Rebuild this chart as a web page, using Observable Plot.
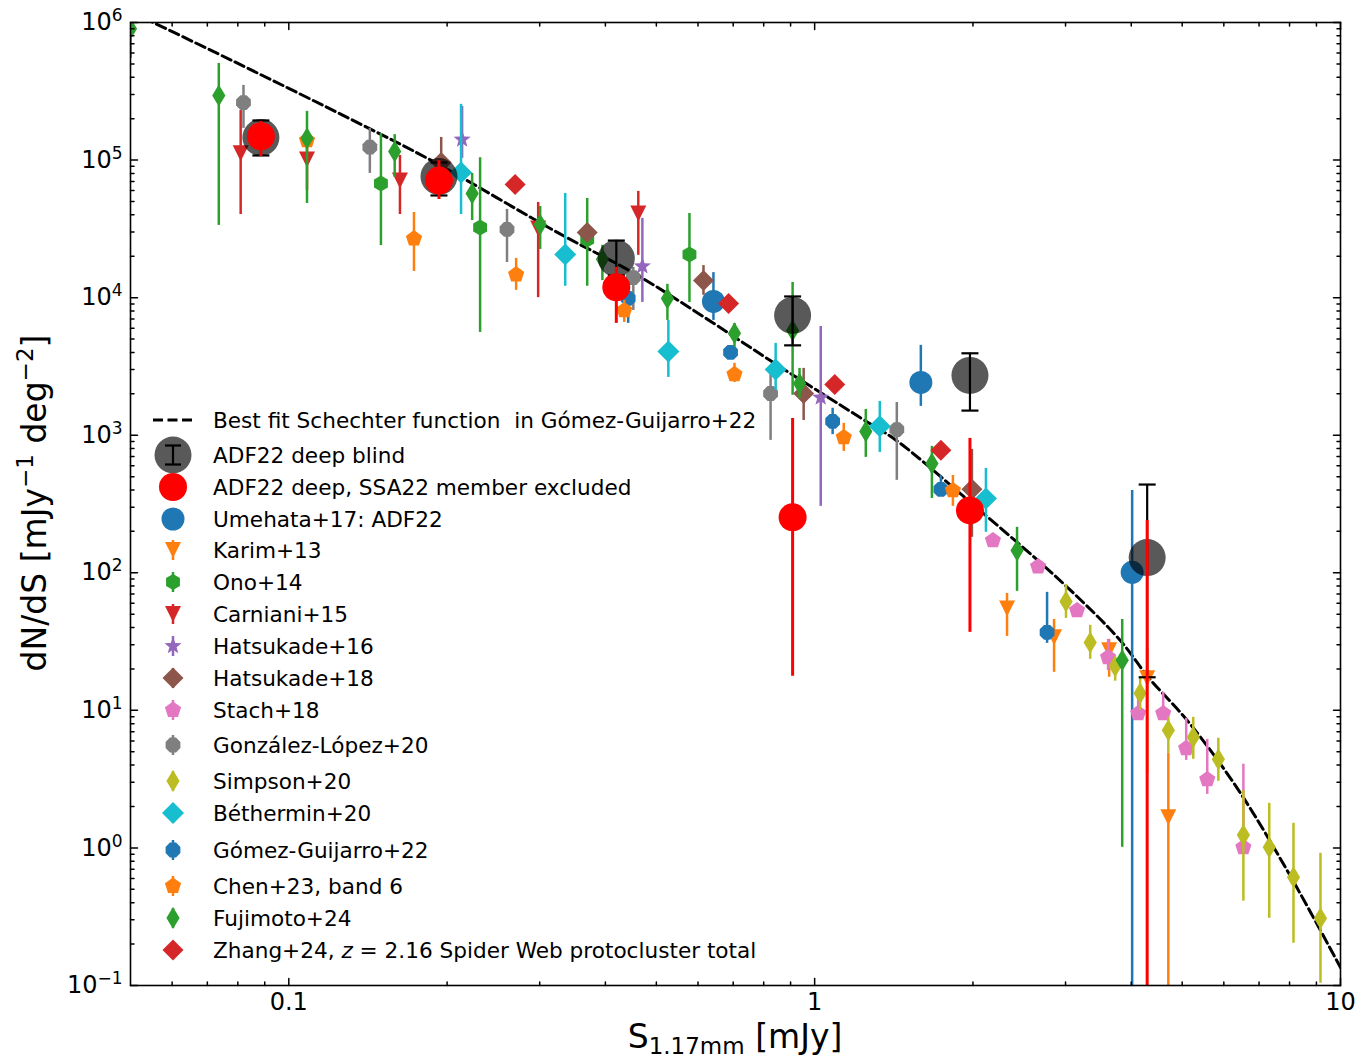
<!DOCTYPE html>
<html><head><meta charset="utf-8">
<script src="https://cdn.jsdelivr.net/npm/d3@7"></script>
<script src="https://cdn.jsdelivr.net/npm/@observablehq/plot@0.6"></script>
<style>body{margin:0;background:#fff;} #chart{width:1371px;height:1061px;}</style>
</head><body><div id="chart"></div>
<script>
// ---------------- DATA: [S (mJy), dN/dS, lower, upper] ----------------
const schechterS = [0.05, 0.0779, 0.136, 0.187, 0.3267, 0.454, 0.639, 0.832, 1.218, 1.43, 2.0, 2.968, 3.81, 4.31, 5.11, 6.365, 8.0, 10];
const schechterN = [1.2e6, 5.3e5, 1.85e5, 9.9e4, 2.93e4, 1.5e4, 6600, 3400, 1350, 916, 314, 83.8, 32.3, 17.4, 8.45, 2.71, 0.64, 0.135];

const adf22Blind = [[0.0885,1.46e5,1.08e5,1.94e5],[0.193,7.6e4,5.53e4,9.6e4],[0.4196,1.93e4,1.45e4,2.6e4],
  [0.908,7430,4500,1.02e4],[1.974,2720,1510,3940],[4.289,129,17.4,438]];
const adf22Excl = [[0.0885,1.49e5,1.06e5,1.91e5],[0.193,7.1e4,5.17e4,9.9e4],[0.4196,1.19e4,6500,1.66e4],
  [0.908,253,17.7,1325],[1.974,284,36.9,948],[4.289,0.001,0.001,240]];
const umehata17 = [[0.642,9380,6830,1.52e4],[1.592,2420,1620,4500],[4.016,100.7,0.001,397]];
const karim13 = [[2.322,55.1,34.5,70.8],[2.853,34.0,18.9,45.8],[3.631,27.3,17.4,32.8],[4.289,17.1,3.48,28.2],[4.705,1.67,0.001,4.87]];
const ono14 = [[0.1497,6.76e4,2.39e4,1.56e5],[0.2311,3.24e4,5590,1.04e5],[0.3694,2.65e4,1.21e4,5.26e4],[0.578,2.06e4,9230,4.09e4]];
const carniani15 = [[0.081,1.12e5,4.02e4,2.29e5],[0.1083,1.01e5,6.0e4,1.4e5],[0.1627,7.1e4,4.02e4,1.08e5],[0.298,3.18e4,1.0e4,4.92e4],[0.462,4.09e4,2.03e4,5.92e4]];
const hatsukade16 = [[0.2136,1.41e5,1.03e5,2.45e5],[0.4703,1.69e4,9230,3.77e4],[1.027,1880,304,6170]];
const hatsukade18 = [[0.1949,9.6e4,7.1e4,1.46e5],[0.3694,2.98e4,2.7e4,3.3e4],[0.6146,1.33e4,1.04e4,1.71e4],[0.953,2010,1280,3060],[1.991,404,181,788]];
const stach18 = [[2.183,172,160,185],[2.66,111,103,120],[3.155,53.3,49,58],[3.614,24.3,19.5,32.8],[4.123,9.5,8.89,13.3],
  [4.601,9.5,8.45,13.5],[5.088,5.3,4.33,8.75],[5.58,3.15,2.45,6.15],[6.536,1.01,0.93,4.06]];
const gonzalezLopez20 = [[0.082,2.62e5,1.7e5,3.49e5],[0.1426,1.24e5,8.0e4,1.7e5],[0.26,3.13e4,1.8e4,4.38e4],[0.452,1.4e4,8070,1.66e4],[0.8245,2010,917,2810],[1.433,1100,470,1730]];
const simpson20 = [[3.006,61.9,46.6,82.4],[3.342,31.2,23.5,41.5],[3.728,20.9,16.3,23.1],[4.159,13.3,10.0,17.1],[4.705,7.16,4.87,8.89],[5.248,6.37,4.41,8.89],
  [5.857,4.41,3.05,6.27],[6.536,1.24,0.41,2.62],[7.32,1.01,0.308,2.11],[8.14,0.611,0.203,1.51],[9.16,0.308,0.104,0.914]];
const bethermin20 = [[0.2126,8.13e4,4.02e4,2.54e5],[0.3355,2.06e4,1.21e4,5.72e4],[0.527,4060,2630,6830],[0.843,3010,2120,4650],[1.33,1160,750,1760],[2.117,347,197,574]];
const gomezGuijarro22 = [[0.442,9870,6500,1.17e4],[0.692,4000,3700,4300],[1.082,1260,1010,1570],[1.738,404,359,510],[2.767,36.9,30.7,72.1]];
const chen23 = [[0.1083,1.39e5,1.2e5,1.6e5],[0.173,2.69e4,1.55e4,4.16e4],[0.2706,1.47e4,1.13e4,1.93e4],[0.4345,8070,6600,9550],[0.704,2770,2420,3330],[1.136,964,763,1220],[1.832,397,304,510]];
const fujimoto24 = [[0.05,9.0e5,5.48e5,2e6],[0.0736,2.95e5,3.35e4,5.04e5],[0.1083,1.44e5,4.84e4,2.26e5],[0.159,1.155e5,7.48e4,1.53e5],[0.2232,5.72e4,3.64e4,8.0e4],
  [0.3006,3.4e4,2.24e4,4.6e4],[0.3948,1.9e4,1.33e4,2.4e4],[0.5248,9870,6830,1.25e4],[0.704,5500,4350,6490],[0.908,5780,1950,1.29e4],[0.936,2380,1850,3060],
  [1.251,1066,690,1540],[1.671,624,347,830],[2.426,145,73.3,214],[3.845,23.1,1.01,45.8]];
const zhang24 = [[0.2694,6.65e4,null,null],[0.686,9080,null,null],[1.092,2340,null,null],[1.738,776,null,null]];

const xMajor = [0.1, 1, 10];
const yMajor = [1e-1, 1e0, 1e1, 1e2, 1e3, 1e4, 1e5, 1e6];

// ---------------- SYMBOLS ----------------
const mk = (pts) => ({draw(ctx, size){ const r = Math.sqrt(size/Math.PI);
  pts.forEach(([x,y],i)=> i ? ctx.lineTo(x*r,y*r) : ctx.moveTo(x*r,y*r)); ctx.closePath(); }});
const regular = (n, a0) => d3.range(n).map(i => [Math.cos(a0 + i*2*Math.PI/n), Math.sin(a0 + i*2*Math.PI/n)]);
const symCircle = d3.symbolCircle;
const symTriDown = mk([[0,1],[-1,-1],[1,-1]]);
const symPent = mk(regular(5, -Math.PI/2));
const symHex = mk(regular(6, -Math.PI/2));
const symOct = mk(regular(8, -Math.PI/2 + Math.PI/8));
const symDiamond = mk([[0,-1],[1,0],[0,1],[-1,0]]);
const symThin = mk([[0,-1],[0.6,0],[0,1],[-0.6,0]]);
const symStar = mk(d3.range(10).map(i => { const a = -Math.PI/2 + i*Math.PI/5, q = i % 2 ? 0.42 : 1; return [q*Math.cos(a), q*Math.sin(a)]; }));
const symCap = {draw(ctx, size){ const r = Math.sqrt(size/Math.PI); ctx.moveTo(-r,0); ctx.lineTo(r,0); }};

const series = [
  {name:"Umehata+17: ADF22", data:umehata17, color:"#1f77b4", symbol:symCircle, r:11.5},
  {name:"Karim+13", data:karim13, color:"#ff7f0e", symbol:symTriDown, r:8},
  {name:"Ono+14", data:ono14, color:"#2ca02c", symbol:symHex, r:8},
  {name:"Carniani+15", data:carniani15, color:"#d62728", symbol:symTriDown, r:8},
  {name:"Hatsukade+16", data:hatsukade16, color:"#9467bd", symbol:symStar, r:9},
  {name:"Hatsukade+18", data:hatsukade18, color:"#8c564b", symbol:symDiamond, r:10.5},
  {name:"Stach+18", data:stach18, color:"#e377c2", symbol:symPent, r:8.5},
  {name:"González-López+20", data:gonzalezLopez20, color:"#7f7f7f", symbol:symOct, r:8},
  {name:"Simpson+20", data:simpson20, color:"#bcbd22", symbol:symThin, r:11},
  {name:"Béthermin+20", data:bethermin20, color:"#17becf", symbol:symDiamond, r:11},
  {name:"Gómez-Guijarro+22", data:gomezGuijarro22, color:"#1f77b4", symbol:symOct, r:8},
  {name:"Chen+23, band 6", data:chen23, color:"#ff7f0e", symbol:symPent, r:8.5},
  {name:"Fujimoto+24", data:fujimoto24, color:"#2ca02c", symbol:symThin, r:11},
  {name:"Zhang+24", data:zhang24, color:"#d62728", symbol:symDiamond, r:10.5}
];
const rowsOf = (a) => a.map(d => ({S:d[0], N:d[1], lo:d[2], hi:d[3]}));

// ---------------- MARKS ----------------
const marks = [];
marks.push(Plot.line(schechterS.map((s,i)=>({S:s, N:schechterN[i]})), {x:"S", y:"N", stroke:"black", strokeWidth:3, strokeDasharray:"10,4.5", curve:"catmull-rom", clip:true}));
for (const s of series) {
  const rows = rowsOf(s.data);
  const withErr = rows.filter(d => d.lo != null);
  if (withErr.length) marks.push(Plot.ruleX(withErr, {x:"S", y1:"lo", y2:"hi", stroke:s.color, strokeWidth:2.5, clip:true}));
  marks.push(Plot.dot(rows, {x:"S", y:"N", symbol:s.symbol, r:s.r, fill:s.color, stroke:"none", clip:true}));
}
const blindRows = rowsOf(adf22Blind);
marks.push(Plot.dot(blindRows, {x:"S", y:"N", r:18.5, fill:"black", fillOpacity:0.65, stroke:"none", clip:true}));
marks.push(Plot.ruleX(blindRows, {x:"S", y1:"lo", y2:"hi", stroke:"black", strokeWidth:2.2, clip:true}));
marks.push(Plot.dot(blindRows, {x:"S", y:"lo", symbol:symCap, r:8.5, fill:"none", stroke:"black", strokeWidth:2.2, clip:true}));
marks.push(Plot.dot(blindRows, {x:"S", y:"hi", symbol:symCap, r:8.5, fill:"none", stroke:"black", strokeWidth:2.2, clip:true}));
const exclRows = rowsOf(adf22Excl);
marks.push(Plot.ruleX(exclRows, {x:"S", y1:"lo", y2:"hi", stroke:"#ff0000", strokeWidth:3, clip:true}));
marks.push(Plot.dot(exclRows, {x:"S", y:"N", r:14, fill:"#ff0000", stroke:"none", clip:true}));

// inward ticks on all four sides
const tickShape = {draw(ctx, l){ ctx.moveTo(0,0); ctx.lineTo(0,-l); }};
const decades = d3.range(-2, 7);
const xMinor = decades.flatMap(k => d3.range(2,10).map(m => m*Math.pow(10,k))).filter(v => v > 0.05 && v < 10);
const yMinor = decades.flatMap(k => d3.range(2,10).map(m => m*Math.pow(10,k))).filter(v => v > 0.1 && v < 1e6);
function xTicks(vals, len){ return [
  Plot.vectorX(vals, {x:d=>d, frameAnchor:"bottom", anchor:"start", rotate:0, length:len, shape:tickShape, stroke:"black", strokeWidth:1.5}),
  Plot.vectorX(vals, {x:d=>d, frameAnchor:"top", anchor:"start", rotate:180, length:len, shape:tickShape, stroke:"black", strokeWidth:1.5})]; }
function yTicks(vals, len){ return [
  Plot.vectorY(vals, {y:d=>d, frameAnchor:"left", anchor:"start", rotate:90, length:len, shape:tickShape, stroke:"black", strokeWidth:1.5}),
  Plot.vectorY(vals, {y:d=>d, frameAnchor:"right", anchor:"start", rotate:-90, length:len, shape:tickShape, stroke:"black", strokeWidth:1.5})]; }
marks.push(...xTicks(xMajor, 7), ...xTicks(xMinor, 3.5), ...yTicks(yMajor, 7), ...yTicks(yMinor, 3.5));
marks.push(Plot.frame({stroke:"black", strokeWidth:1.6}));
marks.push(Plot.axisX({ticks:xMajor, tickSize:0, tickPadding:7, tickFormat:d=>String(d), label:null}));
marks.push(Plot.axisY({ticks:yMajor, tickSize:0, tickPadding:8, tickFormat:d=>"10^"+Math.round(Math.log10(d)), label:null}));

const plot = Plot.plot({
  width:1371, height:1061, marginLeft:130, marginRight:31, marginTop:22, marginBottom:76,
  x:{type:"log", domain:[0.05,10]},
  y:{type:"log", domain:[0.1,1e6]},
  style:{fontFamily:"DejaVu Sans", fontSize:"24px", color:"black", background:"white"},
  marks
});
document.getElementById("chart").appendChild(plot);

// ---------------- TEXT POST-PROCESSING ----------------
const NS = "http://www.w3.org/2000/svg";
plot.querySelectorAll('g[aria-label="y-axis tick label"] text').forEach(t => {
  const [base, exp] = t.textContent.split("^");
  t.textContent = base;
  const ts = document.createElementNS(NS, "tspan");
  ts.setAttribute("dy", "-9"); ts.setAttribute("font-size", "17");
  ts.textContent = exp.replace("-", "\u2212");
  t.appendChild(ts);
});
const svg = d3.select(plot);
const lab = svg.append("g").attr("font-family","DejaVu Sans").attr("fill","black");
// y label
const yl = lab.append("text").attr("transform","translate(46,503) rotate(-90)").attr("text-anchor","middle").attr("font-size",33).style("white-space","pre");
yl.append("tspan").text("dN/dS [mJy");
yl.append("tspan").attr("font-size",23).attr("dy",-13).text("\u22121");
yl.append("tspan").attr("dy",13).text(" deg");
yl.append("tspan").attr("font-size",23).attr("dy",-13).text("\u22122");
yl.append("tspan").attr("dy",13).text("]");
// x label
const xl = lab.append("text").attr("x",735).attr("y",1048).attr("text-anchor","middle").attr("font-size",33).style("white-space","pre");
xl.append("tspan").text("S");
xl.append("tspan").attr("font-size",23).attr("dy",6).text("1.17mm");
xl.append("tspan").attr("dy",-6).text(" [mJy]");

// legend
const legendRowsY = [420,455,487,519,550,582,614,646,678,710,745,781,813,850,886,918,950];
const legendItems = [
  {kind:"line", label:"Best fit Schechter function  in Gómez-Guijarro+22"},
  {kind:"blind", label:"ADF22 deep blind"},
  {kind:"excl", label:"ADF22 deep, SSA22 member excluded"},
  ...series.map(s => ({kind:"series", s, label:s.name}))
];
legendItems[legendItems.length-1].label = null; // Zhang drawn with italic z below
const lg = svg.append("g").attr("font-family","DejaVu Sans").attr("font-size",21.6).attr("text-anchor","start");
const hx = 173, tx = 213;
legendItems.forEach((it, i) => {
  const y = legendRowsY[i];
  if (it.kind === "line") {
    lg.append("line").attr("x1",hx-20).attr("x2",hx+20).attr("y1",y).attr("y2",y).attr("stroke","black").attr("stroke-width",3).attr("stroke-dasharray","10,4.5");
  } else if (it.kind === "blind") {
    lg.append("circle").attr("cx",hx).attr("cy",y).attr("r",18.5).attr("fill","black").attr("fill-opacity",0.65);
    lg.append("line").attr("x1",hx).attr("x2",hx).attr("y1",y-9.5).attr("y2",y+9.5).attr("stroke","black").attr("stroke-width",2.2);
    lg.append("line").attr("x1",hx-8).attr("x2",hx+8).attr("y1",y-9.5).attr("y2",y-9.5).attr("stroke","black").attr("stroke-width",2.2);
    lg.append("line").attr("x1",hx-8).attr("x2",hx+8).attr("y1",y+9.5).attr("y2",y+9.5).attr("stroke","black").attr("stroke-width",2.2);
  } else if (it.kind === "excl") {
    lg.append("circle").attr("cx",hx).attr("cy",y).attr("r",14).attr("fill","#ff0000");
  } else {
    const s = it.s;
    if (s.data.some(d => d[2] != null) && s.name !== "Umehata+17: ADF22")
      lg.append("line").attr("x1",hx).attr("x2",hx).attr("y1",y-10).attr("y2",y+10).attr("stroke",s.color).attr("stroke-width",2.5);
    lg.append("path").attr("transform",`translate(${hx},${y})`).attr("d", d3.symbol(s.symbol, Math.PI*s.r*s.r)()).attr("fill",s.color);
  }
  const t = lg.append("text").attr("x",tx).attr("y",y+7.8).attr("text-anchor","start").style("white-space","pre").attr("fill","black");
  if (it.label) t.text(it.label);
  else {
    t.append("tspan").text("Zhang+24, ");
    t.append("tspan").attr("font-style","italic").text("z");
    t.append("tspan").text(" = 2.16 Spider Web protocluster total");
  }
});
</script>
</body></html>
